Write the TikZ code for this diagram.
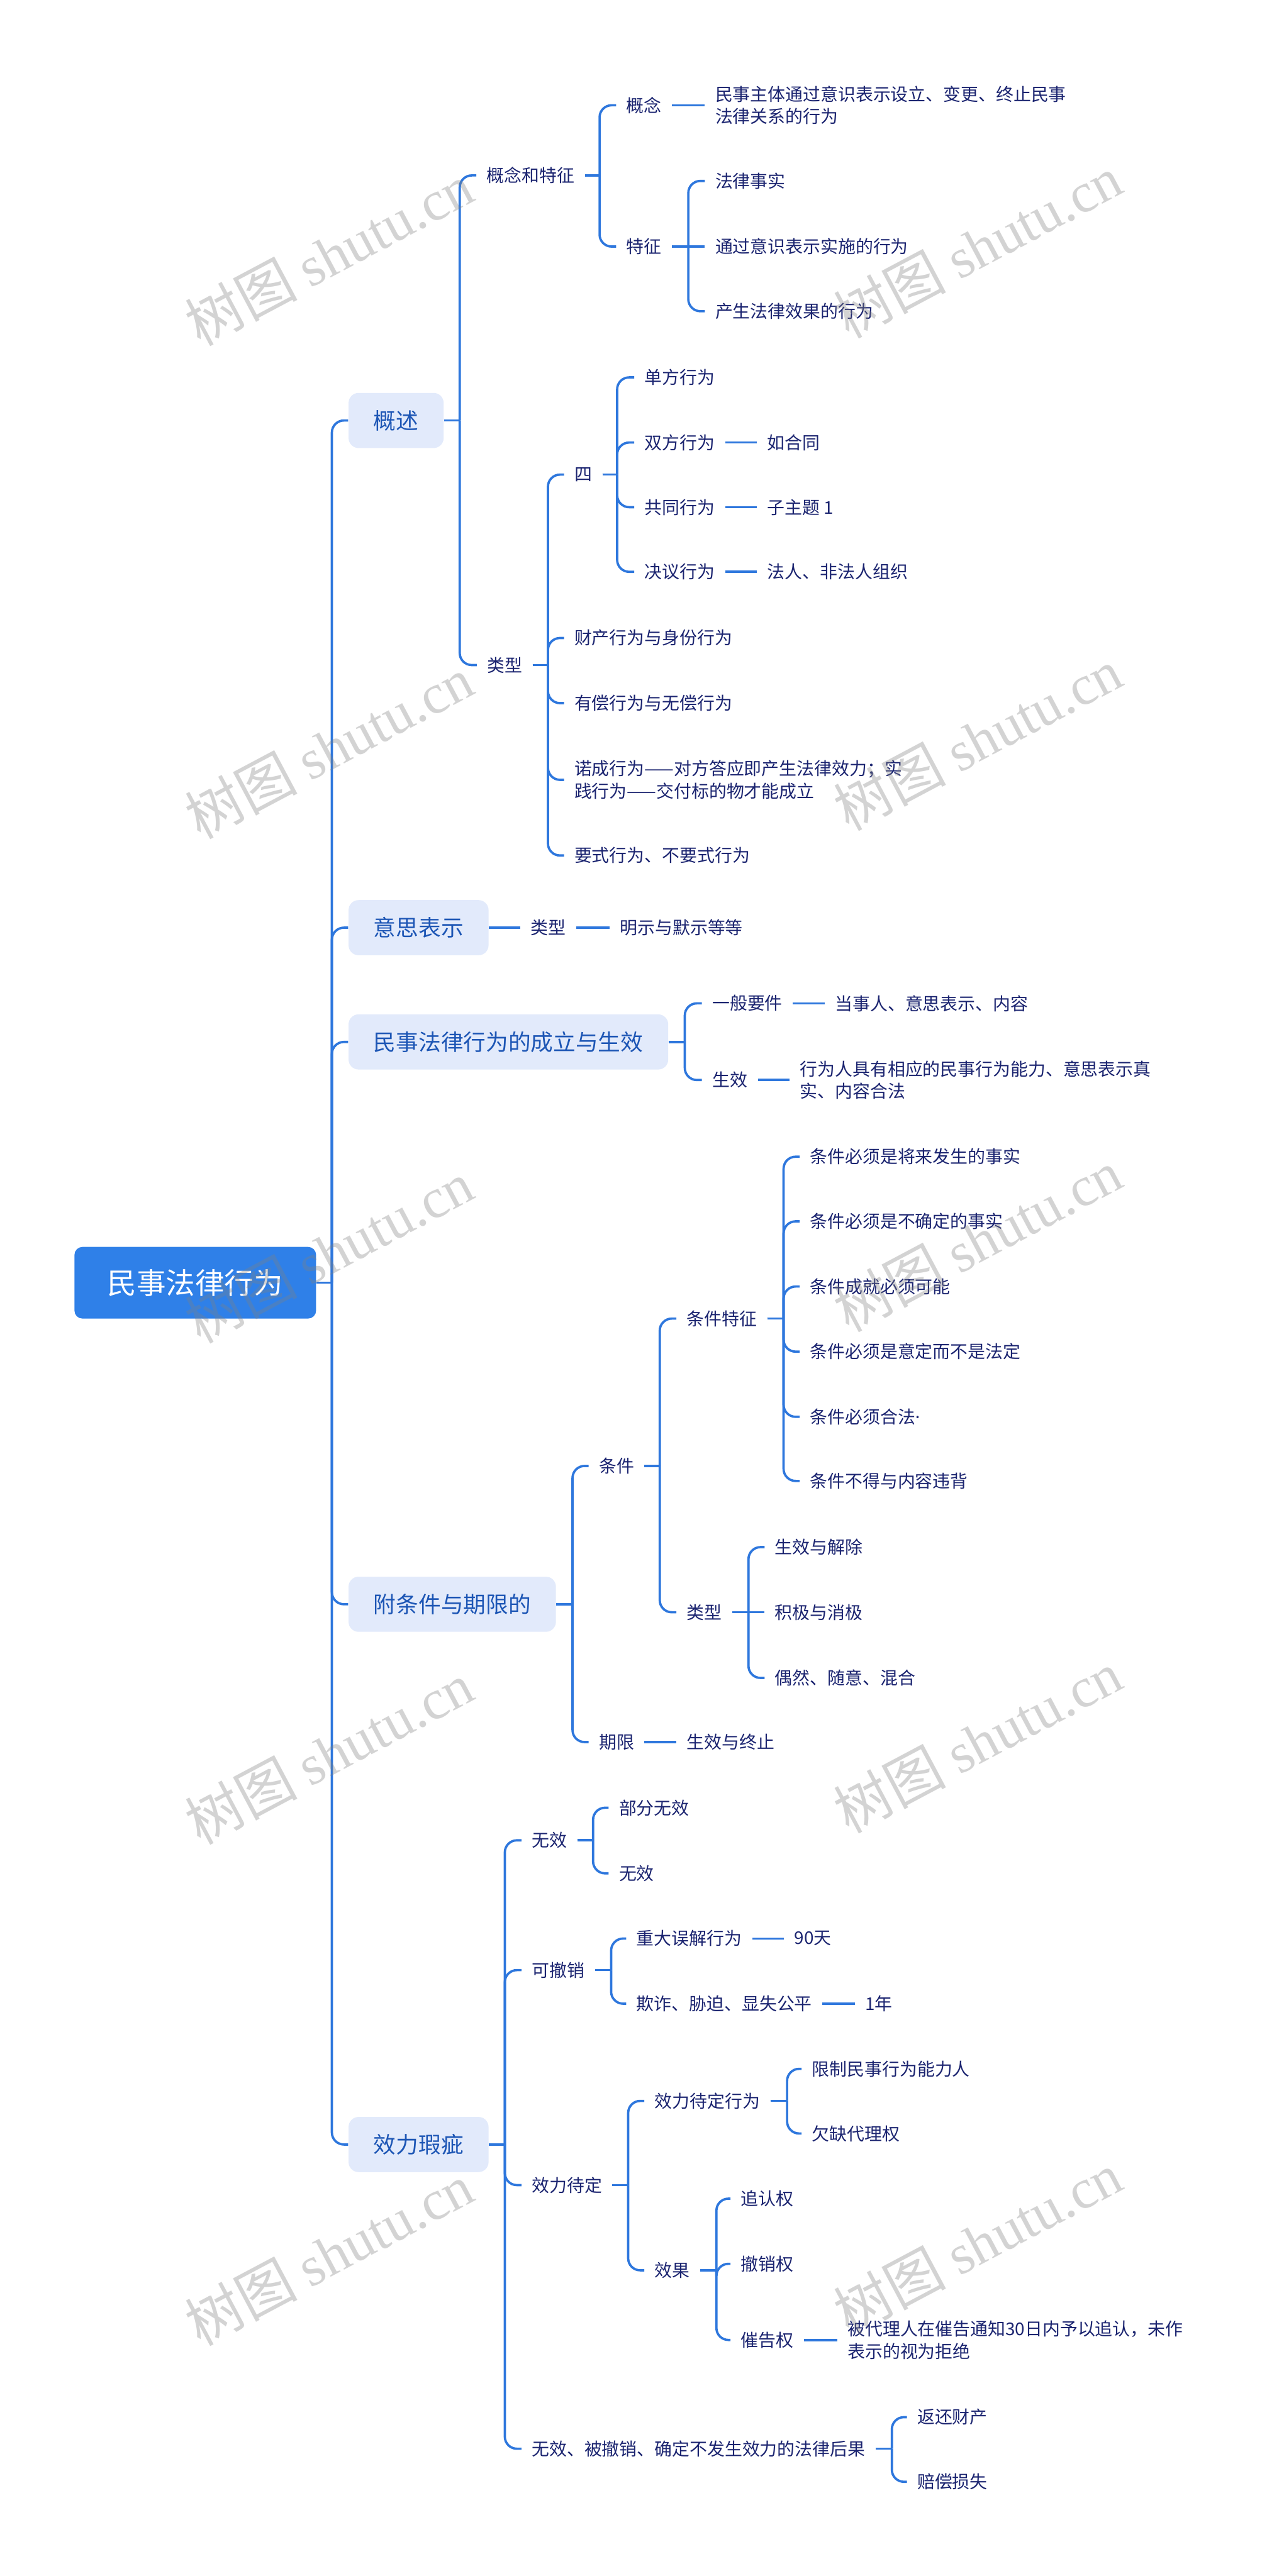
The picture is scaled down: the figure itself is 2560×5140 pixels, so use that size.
\documentclass[tikz,border=0pt]{standalone}
\usepackage{fontspec}
\setmainfont{Noto Sans CJK SC}
\newfontfamily\wmlat{Liberation Serif}
\newfontfamily\latsans{Noto Sans}
\definecolor{lnc}{RGB}{46,119,221}
\definecolor{rootf}{RGB}{47,128,232}
\definecolor{lvf}{RGB}{226,234,251}
\definecolor{lvt}{RGB}{29,86,181}
\definecolor{txc}{RGB}{27,36,112}
\newcommand\kid[3]{\draw[conn] (#1.east) -- (#1.east -| #2); \draw[conn,crn] (#1.east -| #2) |- (#3.west);}
\newcommand\kidmid[2]{\draw[conn] (#1.east) -- (#2.west);}
\newcommand\leaf[2]{\draw[conn] (#1.east) -- (#2.west);}
\begin{document}
\begin{tikzpicture}[x=0.25pt,y=-0.25pt,
  conn/.style={draw=lnc,line width=1.15pt},
  crn/.style={rounded corners=6pt},
  txt/.style={anchor=west,inner xsep=5pt,inner ysep=2pt,text=txc,align=left,font=\fontsize{8.75pt}{11.25pt}\selectfont},
  lvone/.style={anchor=west,inner xsep=12.5pt,inner ysep=0pt,minimum height=27.5pt,fill=lvf,rounded corners=5pt,text=lvt,font=\fontsize{11.2pt}{13pt}\selectfont},
  rootbox/.style={minimum width=120.5pt,minimum height=35.75pt,inner sep=0pt,fill=rootf,rounded corners=4pt,text=white,font=\fontsize{14.6pt}{16pt}\selectfont},
  wmark/.style={rotate=28,text=black!50,text opacity=0.34,font=\fontsize{28pt}{28pt}\selectfont}]
\fill[white] (0,0) rectangle (2560,5140);
\useasboundingbox (0,0) rectangle (2560,5140);

% trunk coordinates
\coordinate (tM) at (662,0);
\coordinate (t1) at (917,0);
\coordinate (t11) at (1196,0);
\coordinate (t112) at (1373,0);
\coordinate (t12) at (1093,0);
\coordinate (t121) at (1231,0);
\coordinate (t3) at (1366,0);
\coordinate (t4) at (1142,0);
\coordinate (t41) at (1316,0);
\coordinate (t411) at (1563,0);
\coordinate (t412) at (1493,0);
\coordinate (t5) at (1007,0);
\coordinate (t51) at (1183,0);
\coordinate (t52) at (1219,0);
\coordinate (t53) at (1253,0);
\coordinate (t531) at (1570,0);
\coordinate (t532) at (1429,0);
\coordinate (t54) at (1779,0);

% root and level 1
\node[rootbox] (root) at (389.5,2559.5) {民事法律行为};
\node[lvone] (b1) at (694.5,839) {概述};
\node[lvone] (b2) at (694.5,1851) {意思表示};
\node[lvone] (b3) at (694.5,2079) {民事法律行为的成立与生效};
\node[lvone] (b4) at (694.5,3201) {附条件与期限的};
\node[lvone] (b5) at (694.5,4279) {效力瑕疵};

% 概述
\node[txt] (a1) at (950,350) {概念和特征};
\node[txt] (a2) at (951,1327) {类型};
\node[txt] (a11) at (1229,210) {概念};
\node[txt] (a12) at (1229,492) {特征};
\node[txt] (a111) at (1406,210) {民事主体通过意识表示设立、变更、终止民事\\法律关系的行为};
\node[txt] (a121) at (1406,361) {法律事实};
\node[txt] (a122) at (1406,492) {通过意识表示实施的行为};
\node[txt] (a123) at (1406,621) {产生法律效果的行为};
\node[txt] (a21) at (1125,947) {四};
\node[txt] (a22) at (1125,1273) {财产行为与身份行为};
\node[txt] (a23) at (1125,1403) {有偿行为与无偿行为};
\node[txt] (a24) at (1125,1556) {诺成行为——对方答应即产生法律效力；实\\践行为——交付标的物才能成立};
\node[txt] (a25) at (1125,1707) {要式行为、不要式行为};
\node[txt] (a211) at (1265,753) {单方行为};
\node[txt] (a212) at (1265,883) {双方行为};
\node[txt] (a213) at (1265,1012) {共同行为};
\node[txt] (a214) at (1265,1141) {决议行为};
\node[txt] (a2121) at (1510,883) {如合同};
\node[txt] (a2131) at (1510,1012) {子主题 1};
\node[txt] (a2141) at (1510,1141) {法人、非法人组织};

% 意思表示
\node[txt] (c1) at (1038,1851) {类型};
\node[txt] (c11) at (1216,1851) {明示与默示等等};

% 成立与生效
\node[txt] (d1) at (1400,2002) {一般要件};
\node[txt] (d2) at (1400,2155) {生效};
\node[txt] (d11) at (1645,2002) {当事人、意思表示、内容};
\node[txt] (d21) at (1575,2155) {行为人具有相应的民事行为能力、意思表示真\\实、内容合法};

% 附条件与期限的
\node[txt] (e1) at (1174,2925) {条件};
\node[txt] (e2) at (1174,3476) {期限};
\node[txt] (e11) at (1349,2631) {条件特征};
\node[txt] (e12) at (1349,3217) {类型};
\node[txt] (e111) at (1595,2308) {条件必须是将来发生的事实};
\node[txt] (e112) at (1595,2437) {条件必须是不确定的事实};
\node[txt] (e113) at (1595,2567) {条件成就必须可能};
\node[txt] (e114) at (1595,2697) {条件必须是意定而不是法定};
\node[txt] (e115) at (1595,2827) {条件必须合法{\latsans ·}};
\node[txt] (e116) at (1595,2955) {条件不得与内容违背};
\node[txt] (e121) at (1525,3087) {生效与解除};
\node[txt] (e122) at (1525,3217) {积极与消极};
\node[txt] (e123) at (1525,3348) {偶然、随意、混合};
\node[txt] (e21) at (1349,3476) {生效与终止};

% 效力瑕疵
\node[txt] (f1) at (1040,3672) {无效};
\node[txt] (f2) at (1040,3931) {可撤销};
\node[txt] (f3) at (1040,4360) {效力待定};
\node[txt] (f4) at (1040,4886) {无效、被撤销、确定不发生效力的法律后果};
\node[txt] (f11) at (1214,3607) {部分无效};
\node[txt] (f12) at (1214,3738) {无效};
\node[txt] (f21) at (1249,3868) {重大误解行为};
\node[txt] (f22) at (1249,3998) {欺诈、胁迫、显失公平};
\node[txt] (f211) at (1564,3868) {90天};
\node[txt] (f221) at (1705,3998) {1年};
\node[txt] (f31) at (1285,4192) {效力待定行为};
\node[txt] (f32) at (1285,4530) {效果};
\node[txt] (f311) at (1599,4128) {限制民事行为能力人};
\node[txt] (f312) at (1599,4257) {欠缺代理权};
\node[txt] (f321) at (1457,4387) {追认权};
\node[txt] (f322) at (1457,4517) {撤销权};
\node[txt] (f323) at (1457,4669) {催告权};
\node[txt] (f3231) at (1670,4669) {被代理人在催告通知30日内予以追认，未作\\表示的视为拒绝};
\node[txt] (f41) at (1809,4823) {返还财产};
\node[txt] (f42) at (1809,4952) {赔偿损失};

% connectors
\kid{root}{tM}{b1} \kid{root}{tM}{b2} \kid{root}{tM}{b3} \kid{root}{tM}{b4} \kid{root}{tM}{b5}
\kid{b1}{t1}{a1} \kid{b1}{t1}{a2}
\kid{a1}{t11}{a11} \kid{a1}{t11}{a12}
\leaf{a11}{a111}
\kid{a12}{t112}{a121} \kidmid{a12}{a122} \kid{a12}{t112}{a123}
\kid{a2}{t12}{a21} \kid{a2}{t12}{a22} \kid{a2}{t12}{a23} \kid{a2}{t12}{a24} \kid{a2}{t12}{a25}
\kid{a21}{t121}{a211} \kid{a21}{t121}{a212} \kid{a21}{t121}{a213} \kid{a21}{t121}{a214}
\leaf{a212}{a2121} \leaf{a213}{a2131} \leaf{a214}{a2141}
\leaf{b2}{c1} \leaf{c1}{c11}
\kid{b3}{t3}{d1} \kid{b3}{t3}{d2}
\leaf{d1}{d11} \leaf{d2}{d21}
\kid{b4}{t4}{e1} \kid{b4}{t4}{e2}
\kid{e1}{t41}{e11} \kid{e1}{t41}{e12}
\kid{e11}{t411}{e111} \kid{e11}{t411}{e112} \kid{e11}{t411}{e113}
\kid{e11}{t411}{e114} \kid{e11}{t411}{e115} \kid{e11}{t411}{e116}
\kid{e12}{t412}{e121} \kidmid{e12}{e122} \kid{e12}{t412}{e123}
\leaf{e2}{e21}
\kid{b5}{t5}{f1} \kid{b5}{t5}{f2} \kid{b5}{t5}{f3} \kid{b5}{t5}{f4}
\kid{f1}{t51}{f11} \kid{f1}{t51}{f12}
\kid{f2}{t52}{f21} \kid{f2}{t52}{f22}
\leaf{f21}{f211} \leaf{f22}{f221}
\kid{f3}{t53}{f31} \kid{f3}{t53}{f32}
\kid{f31}{t531}{f311} \kid{f31}{t531}{f312}
\kid{f32}{t532}{f321} \kid{f32}{t532}{f322} \kid{f32}{t532}{f323}
\leaf{f323}{f3231}
\kid{f4}{t54}{f41} \kid{f4}{t54}{f42}

% watermarks
\foreach \wy [count=\i] in {508,1492,2498,3498,4498}{
  \node[wmark] (wl\i) at (656,\wy) {树图 {\wmlat shutu.cn}};
}
\foreach \wy [count=\i] in {492,1475,2475,3475,4475}{
  \node[wmark] (wr\i) at (1950,\wy) {树图 {\wmlat shutu.cn}};
}
\end{tikzpicture}
\end{document}
